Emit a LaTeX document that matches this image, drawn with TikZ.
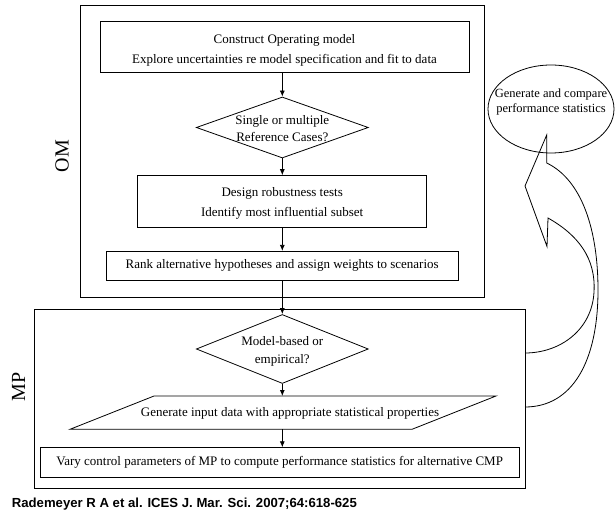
\documentclass[tikz,border=0pt]{standalone}
\usepackage{fontspec}
\setmainfont{Liberation Serif}
\newfontfamily\capfont{Liberation Sans}
\usetikzlibrary{shapes.geometric,arrows.meta}
\begin{document}
\begin{tikzpicture}[x=1pt,y=-1pt,
  every node/.style={font=\fontsize{13}{20}\selectfont},
  stepbox/.style={draw,line width=0.8pt,inner sep=0pt,align=center},
  frame/.style={draw,line width=0.8pt,inner sep=0pt},
  decision/.style={draw,diamond,line width=0.8pt,inner sep=0pt,minimum width=172pt},
  dectext/.style={align=center,font=\fontsize{13}{17}\selectfont},
  flow/.style={line width=0.8pt,-{Latex[length=6pt,width=5pt]}}]
\useasboundingbox (0,0) rectangle (615,518);
\node[frame,minimum width=404pt,minimum height=291.6pt] (om) at (282,151.5) {};
\node[frame,minimum width=491pt,minimum height=179pt] (mp) at (279.5,398.5) {};
\node[rotate=90,font=\fontsize{20}{24}\selectfont] (omlab) at (62,156) {OM};
\node[rotate=90,font=\fontsize{20}{24}\selectfont] (mplab) at (18.5,387) {MP};
\node[stepbox,minimum width=369pt,minimum height=51pt] (construct) at (284.5,46.5) {};
\node[align=center] (constructtxt) at (284.5,50.5) {Construct Operating model\\Explore uncertainties re model specification and fit to data};
\node[decision,minimum height=61pt] (single) at (282.3,127.5) {};
\node[dectext] (singletxt) at (282.3,129) {Single or multiple\\Reference Cases?};
\node[stepbox,minimum width=289pt,minimum height=51.3pt] (design) at (282.2,201.3) {};
\node[align=center] (designtxt) at (282.2,203.5) {Design robustness tests\\Identify most influential subset};
\node[stepbox,minimum width=352.3pt,minimum height=29pt] (rank) at (282.2,265.8) {Rank alternative hypotheses and assign weights to scenarios};
\node[decision,minimum height=69pt] (model) at (282.3,349) {};
\node[dectext,font=\fontsize{13}{18}\selectfont] (modeltxt) at (282.3,351) {Model-based or\\empirical?};
\draw[line width=0.8pt] (154,396) -- (496,396) -- (412,429.3) -- (70,429.3) -- cycle;
\coordinate (gentop) at (283,396);
\coordinate (genbot) at (283,429.3);
\node (gen) at (290,413) {Generate input data with appropriate statistical properties};
\node[stepbox,minimum width=479.3pt,minimum height=30pt] (vary) at (279.7,462.7) {Vary control parameters of MP to compute performance statistics for alternative CMP};
\node[draw,ellipse,minimum width=126pt,minimum height=88pt,line width=0.8pt] (perf) at (551,109) {};
\node[align=center,font=\fontsize{12.5}{15}\selectfont] (perftxt) at (551,102) {Generate and compare\\performance statistics};
\draw[flow] (construct.south -| single.north) -- (single.north);
\draw[flow] (single.south) -- (single.south |- design.north);
\draw[flow] (design.south -| single.south) -- (rank.north -| single.south);
\draw[flow] (rank.south -| model.north) -- (model.north);
\draw[flow] (model.south) -- (model.south |- gentop);
\draw[flow] (genbot -| model.south) -- (vary.north -| model.south);
\draw[line width=0.8pt] (525,353) .. controls (560,353) and (592,330) .. (594,292)
  .. controls (596,258) and (578,235) .. (548,218) -- (547,246.5) -- (525,186) -- (546.7,135)
  -- (546.7,163) .. controls (582,180) and (598,230) .. (598,290)
  .. controls (598,362) and (572,407) .. (525,407);
\node[anchor=base west,inner sep=0pt,font=\capfont\bfseries\fontsize{13.15}{16}\selectfont] (cite) at (11.7,507.5) {Rademeyer R A et al. ICES J. Mar. Sci. 2007;64:618-625};
\end{tikzpicture}
\end{document}
